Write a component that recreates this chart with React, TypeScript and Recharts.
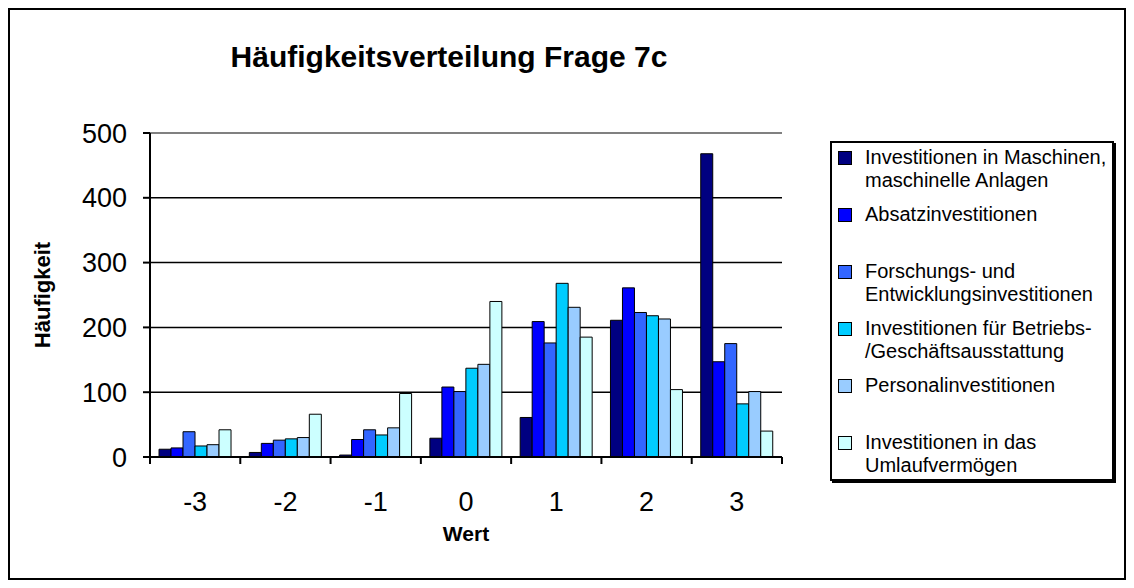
import { BarChart, Bar, XAxis, YAxis, CartesianGrid, ReferenceLine } from "recharts";

const categories = ["-3", "-2", "-1", "0", "1", "2", "3"];

const maschinen = [12, 7, 3, 29, 61, 211, 468];
const absatz = [14, 21, 27, 108, 209, 261, 147];
const forschung = [39, 26, 42, 101, 176, 223, 175];
const betrieb = [17, 28, 34, 137, 268, 218, 82];
const personal = [19, 30, 45, 143, 231, 213, 101];
const umlauf = [42, 66, 98, 240, 185, 104, 40];

const yTicks = [0, 100, 200, 300, 400, 500];

const SERIES = [
  { key: "maschinen", values: maschinen, color: "#000080", label: ["Investitionen in Maschinen,", "maschinelle Anlagen"] },
  { key: "absatz", values: absatz, color: "#0000FF", label: ["Absatzinvestitionen"] },
  { key: "forschung", values: forschung, color: "#3366FF", label: ["Forschungs- und", "Entwicklungsinvestitionen"] },
  { key: "betrieb", values: betrieb, color: "#00CCFF", label: ["Investitionen für Betriebs-", "/Geschäftsausstattung"] },
  { key: "personal", values: personal, color: "#99CCFF", label: ["Personalinvestitionen"] },
  { key: "umlauf", values: umlauf, color: "#CCFFFF", label: ["Investitionen in das", "Umlaufvermögen"] },
];

const data = categories.map((c, i) => {
  const row: Record<string, string | number> = { wert: c };
  SERIES.forEach((s) => (row[s.key] = s.values[i]));
  return row;
});

const FONT = "'Liberation Sans', Arial, sans-serif";

// category label plus tick marks on the band edges, like Excel
function XTick(props: any) {
  const { x, y, payload, index } = props;
  const half = payload.offset ?? 0;
  return (
    <g>
      <line x1={x - half} x2={x - half} y1={y} y2={y + 7} stroke="#000" strokeWidth={2} />
      {index === categories.length - 1 && (
        <line x1={x + half} x2={x + half} y1={y} y2={y + 7} stroke="#000" strokeWidth={2} />
      )}
      <text x={x} y={y + 54} textAnchor="middle" fontSize={27} fontFamily={FONT} fill="#000">
        {payload.value}
      </text>
    </g>
  );
}

export default function App() {
  return (
    <div style={{ position: "relative", width: 1118, height: 572, background: "#fff", fontFamily: FONT }}>
      <div
        style={{
          position: "absolute",
          left: 141,
          width: 600,
          top: 32,
          textAlign: "center",
          fontSize: 30,
          fontWeight: "bold",
          lineHeight: "34px",
        }}
      >
        Häufigkeitsverteilung Frage 7c
      </div>

      <BarChart
        width={1118}
        height={572}
        data={data}
        margin={{ top: 125, right: 344, left: 0, bottom: 23 }}
        barCategoryGap="10%"
        barGap={0}
        style={{ position: "absolute", left: 0, top: 0 }}
      >
        <CartesianGrid vertical={false} stroke="#000" strokeWidth={1.5} />
        <XAxis
          dataKey="wert"
          height={100}
          tickLine={false}
          tickSize={0}
          tickMargin={0}
          axisLine={{ stroke: "#000", strokeWidth: 2 }}
          tick={<XTick />}
          label={{
            content: (p: any) => {
              const vb = p.viewBox;
              return (
                <text
                  x={vb.x + vb.width / 2}
                  y={vb.y + 84}
                  textAnchor="middle"
                  fontSize={21}
                  fontWeight="bold"
                  fontFamily={FONT}
                >
                  Wert
                </text>
              );
            },
          }}
        />
        <YAxis
          width={142}
          domain={[0, 500]}
          ticks={yTicks}
          interval={0}
          tickSize={7}
          tickMargin={16}
          tickLine={{ stroke: "#000", strokeWidth: 2 }}
          axisLine={{ stroke: "#000", strokeWidth: 2 }}
          tick={{ fontSize: 27, fill: "#000", fontFamily: FONT }}
          label={{
            content: (p: any) => {
              const vb = p.viewBox;
              const cx = vb.x + 34;
              const cy = vb.y + vb.height / 2;
              return (
                <text
                  x={cx}
                  y={cy}
                  transform={`rotate(-90 ${cx} ${cy})`}
                  textAnchor="middle"
                  dominantBaseline="central"
                  fontSize={22}
                  fontWeight="bold"
                  fontFamily={FONT}
                >
                  Häufigkeit
                </text>
              );
            },
          }}
        />
        <YAxis
          yAxisId="frame"
          orientation="right"
          width={0}
          domain={[0, 500]}
          tick={false}
          tickLine={false}
          axisLine={{ stroke: "#808080", strokeWidth: 2 }}
        />
        <ReferenceLine y={500} stroke="#808080" strokeWidth={2} />
        {SERIES.map((s) => (
          <Bar
            key={s.key}
            dataKey={s.key}
            fill={s.color}
            stroke="#000"
            strokeWidth={1}
            isAnimationActive={false}
          />
        ))}
      </BarChart>

      {/* legend box */}
      <div
        style={{
          position: "absolute",
          left: 822,
          top: 133,
          width: 284,
          height: 340,
          border: "2px solid #000",
          boxSizing: "border-box",
          boxShadow: "2px 2px 0 #000",
          paddingTop: 3,
        }}
      >
        {SERIES.map((s) => (
          <div key={s.key} style={{ position: "relative", height: 57 }}>
            <div
              style={{
                position: "absolute",
                left: 6,
                top: 5,
                width: 12,
                height: 12,
                background: s.color,
                border: "1px solid #000",
              }}
            />
            <div style={{ position: "absolute", left: 33, top: 0, fontSize: 20, lineHeight: "23px", whiteSpace: "nowrap" }}>
              {s.label.map((l) => (
                <div key={l}>{l}</div>
              ))}
            </div>
          </div>
        ))}
      </div>

      <div
        style={{
          position: "absolute",
          inset: 0,
          border: "2px solid #000",
          boxSizing: "border-box",
          pointerEvents: "none",
        }}
      />
    </div>
  );
}
